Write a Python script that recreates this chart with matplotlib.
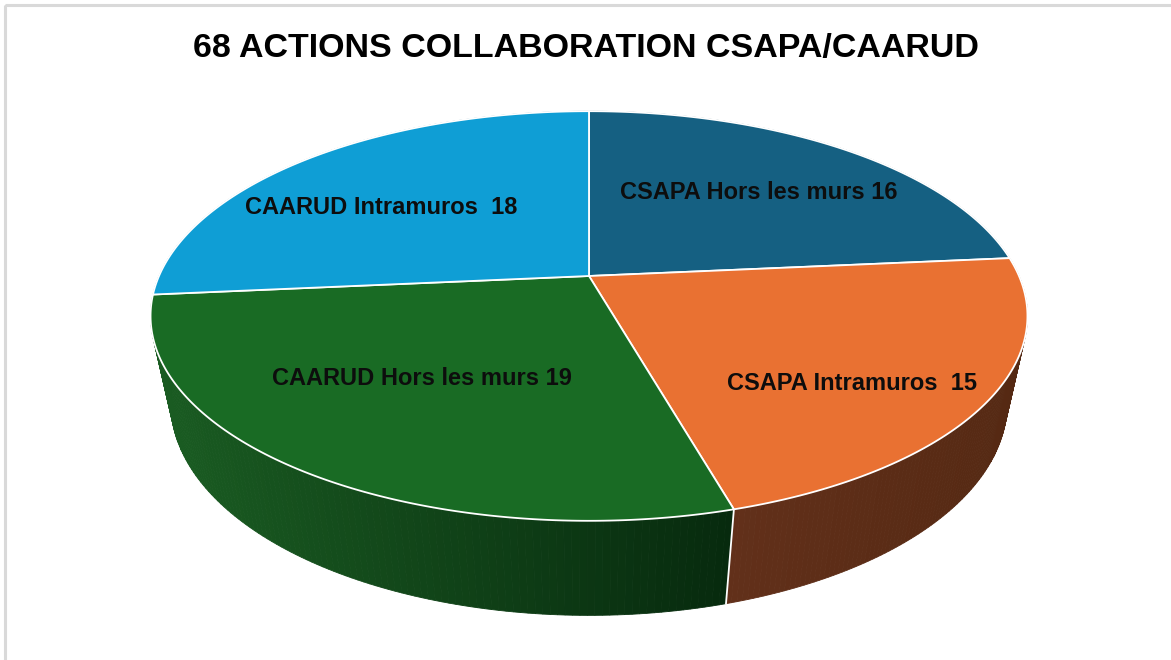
import numpy as np
import matplotlib.pyplot as plt
from matplotlib.patches import Polygon, Rectangle
from matplotlib.colors import to_rgb

title = "68 ACTIONS COLLABORATION CSAPA/CAARUD"
labels = ["CSAPA Hors les murs 16", "CSAPA Intramuros  15",
          "CAARUD Hors les murs 19", "CAARUD Intramuros  18"]
values = [16, 15, 19, 18]
top_colors = ["#156082", "#E97132", "#196B24", "#0F9ED5"]
# couleurs du flanc (gauche -> droite) pour l'effet de dégradé
side_colors = [("#0d3d54", "#0a2f42"), ("#62301a", "#552913"),
               ("#1a5c22", "#072a0e"), ("#0a6a90", "#085a7a")]

# placement des étiquettes : rayon relatif et décalage d'angle (degrés)
lab_r = [0.63, 0.74, 0.59, 0.64]
lab_dt = [0.7, 7.2, 2.2, -6.6]

W, H = 1171, 660
cx, cy = 589, 276      # centre du disque supérieur (pixels)
rx, ry = 430, 197      # demi-axes
dist = 5.12            # distance de la caméra (perspective)
depth = 92             # épaisseur du camembert
sink = 0.24            # le fond est un peu plus loin -> plus petit


def project(theta, r=1.0, bottom=False):
    x = r * np.sin(theta)
    yd = r * np.cos(theta)
    s = dist / (dist + yd + (sink if bottom else 0.0))
    X = cx + rx * x * s
    Y = cy - (ry * yd - (depth if bottom else 0.0)) * s
    return X, Y


fig = plt.figure(figsize=(W / 100, H / 100), dpi=100)
ax = fig.add_axes([0, 0, 1, 1])
ax.set_xlim(0, W)
ax.set_ylim(H, 0)
ax.axis("off")

# cadre gris clair (seuls haut et gauche sont visibles)
ax.add_patch(Rectangle((5, 5), W + 50, H + 50, fill=False,
                       edgecolor="#d9d9d9", lw=2.2, zorder=0))

total = sum(values)
bounds = np.concatenate([[0], np.cumsum(values)]) / total * 2 * np.pi

# flancs : petits quadrilatères triés de l'arrière vers l'avant
quads = []
for i in range(len(values)):
    t = np.linspace(bounds[i], bounds[i + 1], 120)
    xt, yt = project(t)
    xb, yb = project(t, bottom=True)
    c0, c1 = np.array(to_rgb(side_colors[i][0])), np.array(to_rgb(side_colors[i][1]))
    xmin, xmax = xt.min(), xt.max()
    for j in range(len(t) - 1):
        f = ((xt[j] + xt[j + 1]) / 2 - xmin) / max(xmax - xmin, 1)
        col = c0 + (c1 - c0) * f
        pts = [(xt[j], yt[j]), (xt[j + 1], yt[j + 1]),
               (xb[j + 1], yb[j + 1]), (xb[j], yb[j])]
        quads.append((np.cos((t[j] + t[j + 1]) / 2), pts, col))

quads.sort(key=lambda q: -q[0])
for k, (_, pts, col) in enumerate(quads):
    ax.add_patch(Polygon(pts, closed=True, facecolor=col, edgecolor=col,
                         lw=0.6, zorder=1 + k * 1e-4))

# arête blanche entre les flancs visibles
for b in bounds[:-1]:
    if np.cos(b) < -1 / dist:
        xt, yt = project(b)
        xb, yb = project(b, bottom=True)
        ax.plot([xt, xb], [yt, yb], color="white", lw=1.3, zorder=2)

# faces supérieures
for i in range(len(values)):
    t = np.linspace(bounds[i], bounds[i + 1], 200)
    xt, yt = project(t)
    pts = [(cx, cy)] + list(zip(xt, yt))
    ax.add_patch(Polygon(pts, closed=True, facecolor=top_colors[i],
                         edgecolor="white", lw=1.3, joinstyle="round", zorder=3))

# étiquettes
for i in range(len(values)):
    mid = (bounds[i] + bounds[i + 1]) / 2 + np.radians(lab_dt[i])
    lx, ly = project(mid, r=lab_r[i])
    ax.text(lx, ly, labels[i], ha="center", va="center", fontsize=17,
            fontweight="bold", color="#0d0d0d", family="Liberation Sans", zorder=4)

ax.text(586, 48, title, ha="center", va="center", fontsize=24.5,
        fontweight="bold", color="black", family="Liberation Sans", zorder=4)

fig.savefig("out.png", dpi=100)
